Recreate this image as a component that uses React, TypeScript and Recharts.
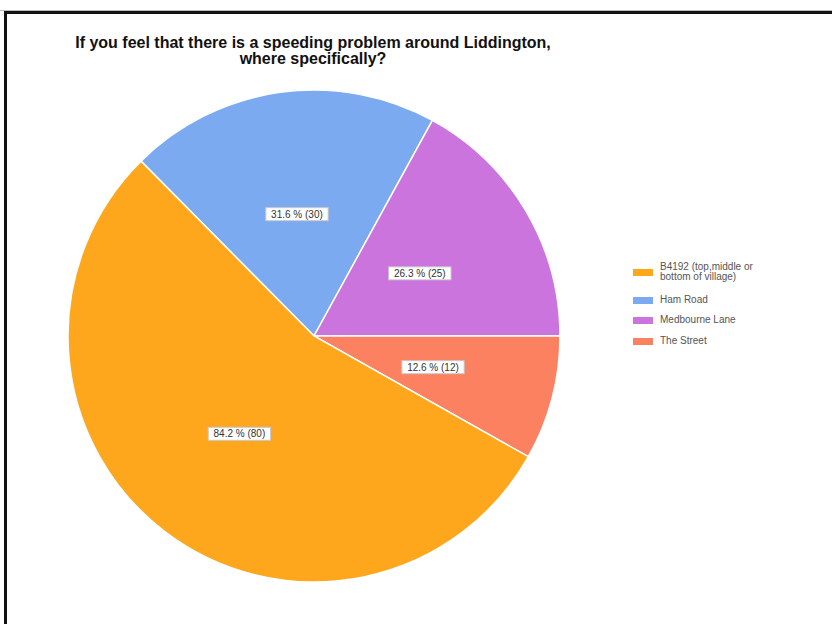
import React from 'react';
import { PieChart, Pie, Cell } from 'recharts';

// survey answers (multi-select, 95 respondents)
const respondents = 95;
const legendNames = ['B4192 (top,middle or bottom of village)', 'Ham Road', 'Medbourne Lane', 'The Street'];
const legendColors = ['#FEA71D', '#7BAAF0', '#CC74DD', '#FB8160'];
const answerCounts = [80, 30, 25, 12];

// slices drawn clockwise starting at Ham Road, B4192 ends the circle
const sliceOrder = [1, 2, 3, 0];

const font = '"Liberation Sans", Arial, sans-serif';

const sliceData = sliceOrder.map((i) => ({
  name: legendNames[i],
  value: answerCounts[i],
  color: legendColors[i],
}));

const total = answerCounts.reduce((a, b) => a + b, 0);
// Ham Road + Medbourne Lane sit above the 3 o'clock line
const startAngle = ((answerCounts[1] + answerCounts[2]) / total) * 360;

const RADIAN = Math.PI / 180;

const renderLabel = (props: any) => {
  const { cx, cy, midAngle, outerRadius, value } = props;
  const r = outerRadius * 0.5;
  const x = cx + r * Math.cos(-midAngle * RADIAN);
  const y = cy + r * Math.sin(-midAngle * RADIAN);
  const text = `${((value / respondents) * 100).toFixed(1)} % (${value})`;
  const w = text.length * 5.3 + 4;
  return (
    <g>
      <rect x={x - w / 2} y={y - 6.5} width={w} height={13} fill="#fff" stroke="#c8c8c8" strokeWidth={1} />
      <text x={x} y={y} textAnchor="middle" dominantBaseline="central" fontSize={10} fill="#333" fontFamily={font}>
        {text}
      </text>
    </g>
  );
};

// legend rows (top of each row)
const legendTops = [262, 295, 315, 336];

const App: React.FC = () => {
  return (
    <div style={{ position: 'absolute', left: 0, top: 0, width: 832, height: 624, background: '#fff', fontFamily: font }}>
      <div style={{ position: 'absolute', left: 4, top: 11, right: 0, bottom: 0, borderTop: '3px solid #111', borderLeft: '3px solid #111' }} />
      <div style={{ position: 'absolute', left: 0, top: 10, width: 832, height: 1, background: '#bbb' }} />
      <div
        style={{
          position: 'absolute',
          left: 13,
          top: 35,
          width: 600,
          textAlign: 'center',
          fontSize: 16,
          fontWeight: 'bold',
          lineHeight: '16px',
          color: '#111',
        }}
      >
        If you feel that there is a speeding problem around Liddington,
        <br />
        where specifically?
      </div>
      <PieChart width={832} height={624} margin={{ top: 0, right: 0, bottom: 0, left: 0 }} style={{ position: 'absolute', left: 0, top: 0 }}>
        <Pie
          data={sliceData}
          dataKey="value"
          cx={314}
          cy={336}
          outerRadius={246}
          startAngle={startAngle}
          endAngle={startAngle - 360}
          stroke="#fff"
          strokeWidth={1.5}
          label={renderLabel}
          labelLine={false}
          isAnimationActive={false}
        >
          {sliceData.map((d) => (
            <Cell key={d.name} fill={d.color} />
          ))}
        </Pie>
      </PieChart>
      {legendNames.map((name, i) => (
        <div
          key={name}
          style={{ position: 'absolute', left: 633, top: legendTops[i], display: 'flex', alignItems: 'center', fontSize: 10, color: '#555' }}
        >
          <div style={{ width: 20, height: 7, background: legendColors[i], marginRight: 7, flexShrink: 0 }} />
          <div style={{ width: 110, lineHeight: '10px' }}>{name}</div>
        </div>
      ))}
    </div>
  );
};

export default App;
